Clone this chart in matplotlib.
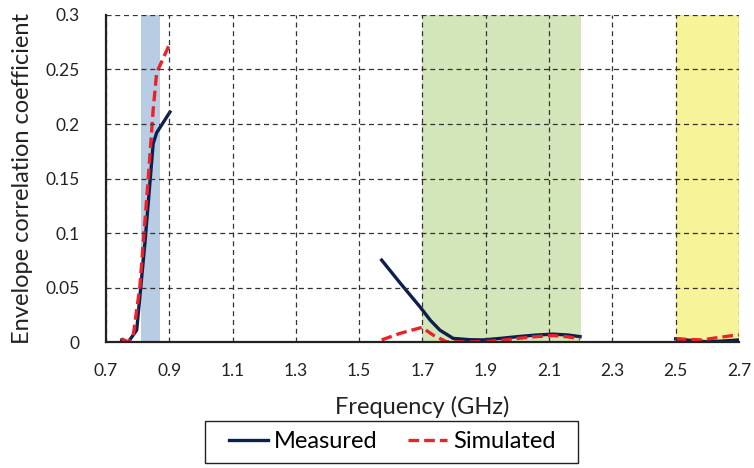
import matplotlib
matplotlib.use("Agg")
import matplotlib.pyplot as plt
from matplotlib.ticker import FuncFormatter
from matplotlib.patches import Rectangle

plt.rcParams['font.family'] = ['Lato', 'DejaVu Sans']

# Measured data (three bands)
meas_f1 = [0.75, 0.77, 0.797, 0.823, 0.849, 0.86, 0.902]
meas_v1 = [0.002, 0.0, 0.011, 0.091, 0.182, 0.192, 0.211]
meas_f2 = [1.571, 1.63, 1.692, 1.725, 1.755, 1.797, 1.85, 1.892, 1.95, 2.0, 2.06, 2.113, 2.16, 2.198]
meas_v2 = [0.0752, 0.054, 0.0324, 0.020, 0.011, 0.0034, 0.0022, 0.002, 0.0035, 0.005, 0.0065, 0.0073, 0.0065, 0.005]
meas_f3 = [2.5, 2.55, 2.6, 2.65, 2.7]
meas_v3 = [0.003, 0.0015, 0.0003, 0.001, 0.002]

# Simulated data (three bands)
sim_f1 = [0.75, 0.77, 0.786, 0.807, 0.834, 0.849, 0.86, 0.902]
sim_v1 = [0.003, 0.0, 0.006, 0.051, 0.152, 0.213, 0.247, 0.274]
sim_f2 = [1.571, 1.629, 1.698, 1.734, 1.776, 1.83, 1.892, 1.95, 1.987, 2.05, 2.113, 2.16, 2.198]
sim_v2 = [0.002, 0.008, 0.0135, 0.0064, 0.0003, 0.0002, 0.0003, 0.0015, 0.003, 0.0048, 0.006, 0.0048, 0.003]
sim_f3 = [2.5, 2.54, 2.583, 2.63, 2.68, 2.7]
sim_v3 = [0.003, 0.0025, 0.002, 0.004, 0.006, 0.0065]

# Highlighted bands
bands = [(0.81, 0.87), (1.70, 2.20), (2.50, 2.70)]
band_colors = ['#b8cce4', '#d3e6b9', '#f6f399']

xticks = [0.7, 0.9, 1.1, 1.3, 1.5, 1.7, 1.9, 2.1, 2.3, 2.5, 2.7]
yticks = [0, 0.05, 0.1, 0.15, 0.2, 0.25, 0.3]

fig = plt.figure(figsize=(7.54, 4.68), dpi=100)
ax = fig.add_axes([0.1406, 0.269, 0.8394, 0.699])

meas_color = '#0c1f4f'
sim_color = '#ec2229'
dash = (0, (3.2, 1.5))

for (a, b), c in zip(bands, band_colors):
    ax.axvspan(a, b, ymin=0, ymax=1, color=c, lw=0, zorder=1)

ax.grid(True, color='#333333', ls=(0, (4, 3)), lw=0.9, zorder=1.5)
ax.set_axisbelow(False)

l1, = ax.plot(meas_f1, meas_v1, color=meas_color, lw=2.4, zorder=2, label='Measured')
ax.plot(meas_f2, meas_v2, color=meas_color, lw=2.4, zorder=2)
ax.plot(meas_f3, meas_v3, color=meas_color, lw=2.4, zorder=2)
l2, = ax.plot(sim_f1, sim_v1, color=sim_color, lw=2.4, ls=dash, zorder=2.1, label='Simulated')
ax.plot(sim_f2, sim_v2, color=sim_color, lw=2.4, ls=dash, zorder=2.1)
ax.plot(sim_f3, sim_v3, color=sim_color, lw=2.4, ls=dash, zorder=2.1)

ax.set_xlim(0.7, 2.7)
ax.set_ylim(0, 0.3)
ax.set_xticks(xticks)
ax.set_yticks(yticks)
ax.xaxis.set_major_formatter(FuncFormatter(lambda v, p: f"{v:g}"))
ax.yaxis.set_major_formatter(FuncFormatter(lambda v, p: f"{v:g}"))
for s in ['top', 'right']:
    ax.spines[s].set_visible(False)
for s in ['left', 'bottom']:
    ax.spines[s].set_linewidth(1.6)
    ax.spines[s].set_color('#222222')
    ax.spines[s].set_zorder(5)
ax.tick_params(length=0, labelsize=12.5, colors='#222222')
ax.tick_params(axis='y', pad=19)
ax.tick_params(axis='x', pad=15)
ax.set_xlabel('Frequency (GHz)', fontsize=17, labelpad=12, color='#222222')
ax.set_ylabel('Envelope correlation coefficient', fontsize=17, labelpad=9, color='#222222')

leg = fig.legend(handles=[l1, l2], loc='center', bbox_to_anchor=(0.520, 0.056), ncol=2,
                 frameon=False, fontsize=17,
                 handlelength=1.65, handletextpad=0.25, columnspacing=1.3,
                 borderpad=0.3, borderaxespad=0)
fig.patches.append(Rectangle((205 / 754, 1 - 463 / 468), 373 / 754, 42 / 468,
                             transform=fig.transFigure, fill=False,
                             edgecolor='#222222', lw=1.0))

fig.savefig('out.png', dpi=100)
